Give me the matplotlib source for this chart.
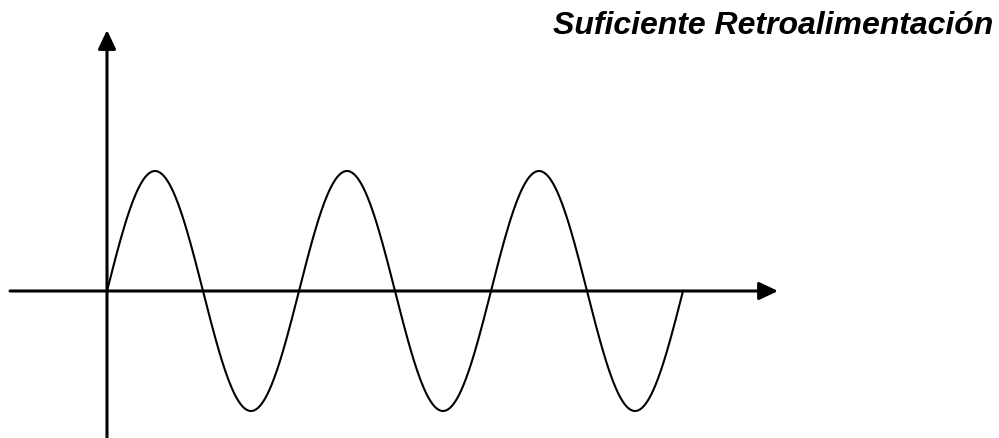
import matplotlib
matplotlib.use("Agg")
import matplotlib.pyplot as plt
import numpy as np

# Diagram data: a sustained oscillation (three full cycles)
title = "Suficiente Retroalimentación"
n_cycles = 3
amplitude = 1.0

# Axis extents in the same units (cycles / amplitude)
x_axis_range = (-0.505, 3.495)
y_axis_range = (-1.23, 2.175)

t = np.linspace(0, n_cycles, 600)
wave = amplitude * np.sin(2 * np.pi * t)

fig = plt.figure(figsize=(9.99, 4.38), dpi=100)
ax = fig.add_axes([0, 0, 1, 1])
ax.set_xlim(-107 / 192, (999 - 107) / 192)
ax.set_ylim(-147 / 120, 291 / 120)
ax.axis("off")

arrow = dict(arrowstyle="-|>,head_length=0.95,head_width=0.45",
             color="black", lw=2.2, mutation_scale=12,
             shrinkA=0, shrinkB=0)
ax.annotate("", xy=(x_axis_range[1], 0), xytext=(x_axis_range[0], 0),
            arrowprops=arrow)
ax.annotate("", xy=(0, y_axis_range[1]), xytext=(0, y_axis_range[0]),
            arrowprops=arrow)

ax.plot(t, wave, color="black", lw=1.5)

fig.text(993 / 999, 1 - 34 / 438, title, ha="right", va="baseline",
         fontsize=23, fontweight="bold", fontstyle="italic",
         family=["Liberation Sans", "DejaVu Sans"])

fig.savefig("out.png", dpi=100)
